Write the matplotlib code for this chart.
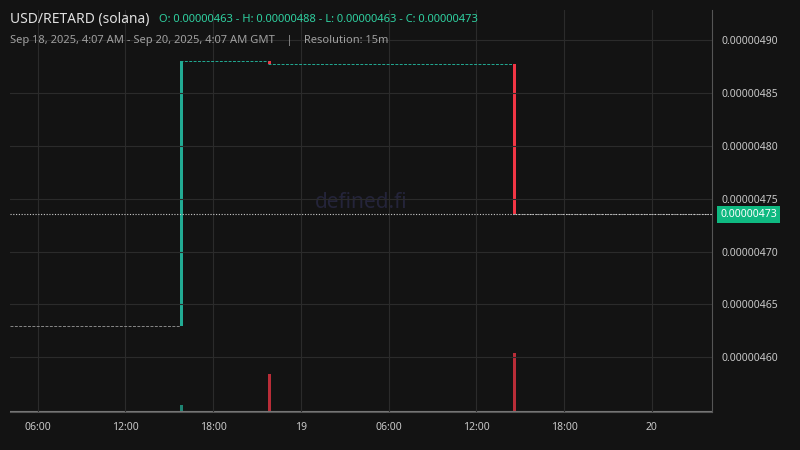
import matplotlib
matplotlib.use("Agg")
import matplotlib.pyplot as plt
import matplotlib.dates as mdates
import pandas as pd

plt.rcParams['font.family'] = ['Noto Sans', 'DejaVu Sans']

# candles that actually moved (15m resolution), times in GMT
candle_times = pd.to_datetime(["2025-09-18 15:45", "2025-09-18 21:45", "2025-09-19 14:30"])
opens = [4.63e-6, 4.880e-6, 4.877e-6]
closes = [4.88e-6, 4.877e-6, 4.735e-6]
volumes = [0.7, 3.8, 5.9]
start = pd.Timestamp("2025-09-18 04:07")
end = pd.Timestamp("2025-09-20 04:07")
last_price = 4.735e-6

BG = "#131313"
GREEN = "#22ab94"
RED = "#f23645"
GRID = "#2b2b2b"
TXT = "#c8c8c8"

fig = plt.figure(figsize=(8, 4.5), dpi=100, facecolor=BG)
ax = fig.add_axes([10 / 800, 38 / 450, 702 / 800, 402 / 450], facecolor=BG)
vax = ax.twinx()
vax.set_zorder(0)
ax.set_zorder(1)
ax.patch.set_visible(False)
vax.patch.set_facecolor(BG)

# flat segments between candles
seg_start = [start] + list(candle_times)
seg_end = list(candle_times) + [end]
seg_price = [opens[0]] + closes
seg_col = ["#888888", GREEN, GREEN, "#888888"]
for s, e, p, c in zip(seg_start, seg_end, seg_price, seg_col):
    ax.plot([s, e], [p, p], color=c, lw=0.7, ls=(0, (3, 1.5)))

w = pd.Timedelta(minutes=11)
for t, o, c in zip(candle_times, opens, closes):
    col = GREEN if c >= o else RED
    ax.bar(t, abs(c - o), bottom=min(o, c), width=w, color=col, align="edge")

for t, o, c, v in zip(candle_times, opens, closes, volumes):
    col = GREEN if c >= o else RED
    vax.bar(t, v, width=w, color=col, alpha=0.75, align="edge")
vax.plot([start, end], [0.05, 0.05], color="#777777", lw=0.8)
vax.set_ylim(0, 40)
vax.set_yticks([])

ax.axhline(last_price, color="#cccccc", lw=0.8, ls=(0, (1, 1.5)))

ax.set_xlim(start, end)
ax.set_ylim(4.5485e-6, 4.928e-6)
ax.yaxis.tick_right()
ax.set_yticks([4.60e-6, 4.65e-6, 4.70e-6, 4.75e-6, 4.80e-6, 4.85e-6, 4.90e-6])
ax.yaxis.set_major_formatter(plt.FuncFormatter(lambda v, p: f"{v:.8f}"))
ax.xaxis.set_major_locator(mdates.HourLocator(byhour=[0, 6, 12, 18]))

def fmt_x(v, p):
    d = mdates.num2date(v)
    return str(d.day) if d.hour == 0 else d.strftime("%H:%M")

ax.xaxis.set_major_formatter(plt.FuncFormatter(fmt_x))
ax.tick_params(colors=TXT, labelsize=7.5, length=0, pad=7)
ax.grid(True, color=GRID, lw=0.8)
for s in ax.spines.values():
    s.set_visible(False)
for s in vax.spines.values():
    s.set_visible(False)
ax.spines["right"].set_visible(True)
ax.spines["right"].set_color("#555555")
ax.spines["bottom"].set_visible(True)
ax.spines["bottom"].set_color("#555555")

fig.canvas.draw()
for lbl in ax.get_xticklabels():
    if ":" not in lbl.get_text():
        lbl.set_fontweight("bold")

ax.text(1.012, last_price, "0.00000473", transform=ax.get_yaxis_transform(),
        va="center", ha="left", fontsize=7.5, color="white",
        bbox=dict(boxstyle="square,pad=0.3", fc="#0fb981", ec="none"))

ax.text(0.5, 0.52, "defined.fi", transform=ax.transAxes, ha="center", va="center",
        fontsize=15, color="#24243a", zorder=0)

fig.text(10 / 800, 1 - 19 / 450, "USD/RETARD (solana)", fontsize=10, color="#e0e0e0", va="center")
fig.text(159 / 800, 1 - 19 / 450, "O: 0.00000463 - H: 0.00000488 - L: 0.00000463 - C: 0.00000473",
         fontsize=8, color="#2fd0a0", va="center")
fig.text(10 / 800, 1 - 41 / 450,
         "Sep 18, 2025, 4:07 AM - Sep 20, 2025, 4:07 AM GMT    |    Resolution: 15m",
         fontsize=8, color="#a0a0a0", va="center")

fig.savefig("out.png", dpi=100, facecolor=BG)
